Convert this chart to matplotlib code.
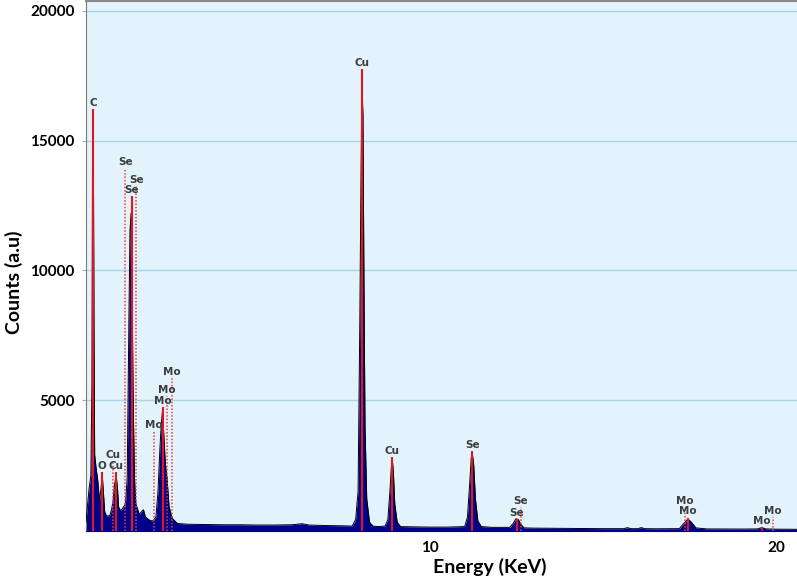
import matplotlib
matplotlib.use('Agg')
import matplotlib.pyplot as plt

# EDS spectrum (energy in keV, counts)
energy_kev = [0.06, 0.10, 0.15, 0.20, 0.23, 0.25, 0.27, 0.29, 0.31, 0.35, 0.40, 0.45,
              0.50, 0.53, 0.56, 0.60, 0.65, 0.70, 0.75, 0.80, 0.84, 0.88, 0.93, 0.97,
              1.00, 1.05, 1.10, 1.15, 1.20, 1.25, 1.30, 1.33, 1.36, 1.39, 1.42, 1.46,
              1.50, 1.55, 1.60, 1.66, 1.72, 1.78, 1.85, 1.92, 2.00, 2.08, 2.14, 2.19,
              2.23, 2.27, 2.31, 2.35, 2.40, 2.46, 2.55, 2.70, 3.00, 3.5, 4.0, 4.5,
              5.0, 5.5, 6.0, 6.3, 6.5, 7.0, 7.5, 7.75, 7.85, 7.92, 7.97, 8.00,
              8.03, 8.06, 8.09, 8.12, 8.17, 8.25, 8.35, 8.50, 8.70, 8.78, 8.84, 8.88,
              8.91, 8.94, 8.98, 9.05, 9.15, 9.5, 10.0, 10.5, 11.00, 11.08, 11.14, 11.19,
              11.22, 11.26, 11.31, 11.38, 11.48, 11.8, 12.30, 12.40, 12.48, 12.55, 12.63, 12.72,
              13.0, 14.0, 15.0, 15.6, 15.7, 15.8, 16.0, 16.1, 16.2, 16.5, 17.20, 17.33,
              17.45, 17.55, 17.68, 18.0, 19.0, 19.45, 19.58, 19.7, 20.0, 20.6]
counts = [300, 900, 1600, 2100, 5500, 15200, 15800, 7900, 2900, 2400, 1900, 1100,
          1700, 2100, 1500, 700, 550, 540, 560, 800, 1100, 1700, 2100, 1600,
          900, 750, 800, 900, 1000, 2000, 8200, 11500, 12200, 9500, 5200, 2000,
          1000, 800, 600, 700, 780, 500, 420, 360, 350, 500, 1500, 3000,
          4000, 4600, 3600, 2600, 2000, 900, 450, 250, 220, 210, 200, 200,
          190, 190, 200, 240, 190, 170, 160, 150, 400, 1500, 8000, 13000,
          17200, 16000, 9500, 4000, 1200, 300, 150, 130, 150, 400, 1500, 2400,
          2700, 2200, 1000, 300, 130, 120, 110, 110, 130, 500, 1700, 2800,
          2950, 2500, 1200, 350, 130, 100, 100, 250, 430, 400, 200, 80,
          70, 60, 50, 50, 90, 50, 50, 90, 50, 45, 50, 250,
          420, 300, 80, 40, 35, 40, 90, 40, 30, 25]

# marker lines: energy, top, label, dotted
line_kev = [0.27, 0.52, 0.83, 0.93, 1.20, 1.39, 1.51, 2.02, 2.28, 2.40, 2.54,
            8.04, 8.90, 11.22, 12.50, 12.62, 17.35, 17.44, 19.58, 19.90]
line_top = [16200, 2250, 2650, 2250, 13950, 12850, 13250, 3800, 4750, 5150, 5850,
            17750, 2800, 3030, 430, 900, 900, 480, 120, 500]
line_label = ['C', 'O', 'Cu', 'Cu', 'Se', 'Se', 'Se', 'Mo', 'Mo', 'Mo', 'Mo',
              'Cu', 'Cu', 'Se', 'Se', 'Se', 'Mo', 'Mo', 'Mo', 'Mo']
line_dotted = [False, False, True, False, True, False, True, True, False, True, True,
               False, False, False, False, True, True, False, False, True]

y_ticks = [5000, 10000, 15000, 20000]
x_ticks = [10, 20]

fig = plt.figure(figsize=(7.97, 5.79), dpi=100)
ax = fig.add_axes([86 / 797, 48 / 579, 711 / 797, 530 / 579])
ax.set_facecolor('#e2f3fb')

ax.set_xlim(0.06, 20.6)
ax.set_ylim(-40, 20375)

for y in y_ticks:
    ax.axhline(y, color='#a6d6ec', lw=1, zorder=1)

ax.fill_between(energy_kev, counts, -100, color='#00008c', lw=0, zorder=2)
ax.plot(energy_kev, counts, color='black', lw=0.7, zorder=3)

for x, top, lab, dot in zip(line_kev, line_top, line_label, line_dotted):
    if dot:
        ax.vlines(x, -40, top, colors='#f03c3c', lw=1.1, linestyles=(0, (1, 1.2)), zorder=4)
    else:
        ax.vlines(x, -40, top, colors='#e3141c', lw=1.5, zorder=4)
    ax.text(x, top + 40, lab, ha='center', va='bottom', fontsize=7.5,
            fontweight='bold', color='#3c3c3c', zorder=5)

ax.set_yticks(y_ticks)
ax.set_xticks(x_ticks)
ax.tick_params(axis='y', length=3, color='#b0b0b0', pad=5)
ax.tick_params(axis='x', length=0, pad=7)
for lab in ax.get_yticklabels() + ax.get_xticklabels():
    lab.set_fontfamily('Lato')
    lab.set_fontweight('bold')
    lab.set_fontsize(11)

ax.spines['left'].set_color('#7a7a7a')
ax.spines['top'].set_color('#8a8a8a')
ax.spines['top'].set_linewidth(1.5)
ax.spines['right'].set_visible(False)
ax.spines['bottom'].set_color('#00008c')

ax.set_ylabel('Counts (a.u)', fontfamily='Lato', fontweight='bold', fontsize=14)
ax.yaxis.set_label_coords(-0.088, 0.47)
ax.set_xlabel('Energy (KeV)', fontfamily='Lato', fontweight='bold', fontsize=14)
ax.xaxis.set_label_coords(0.568, -0.051)

fig.savefig('out.png', dpi=100)
